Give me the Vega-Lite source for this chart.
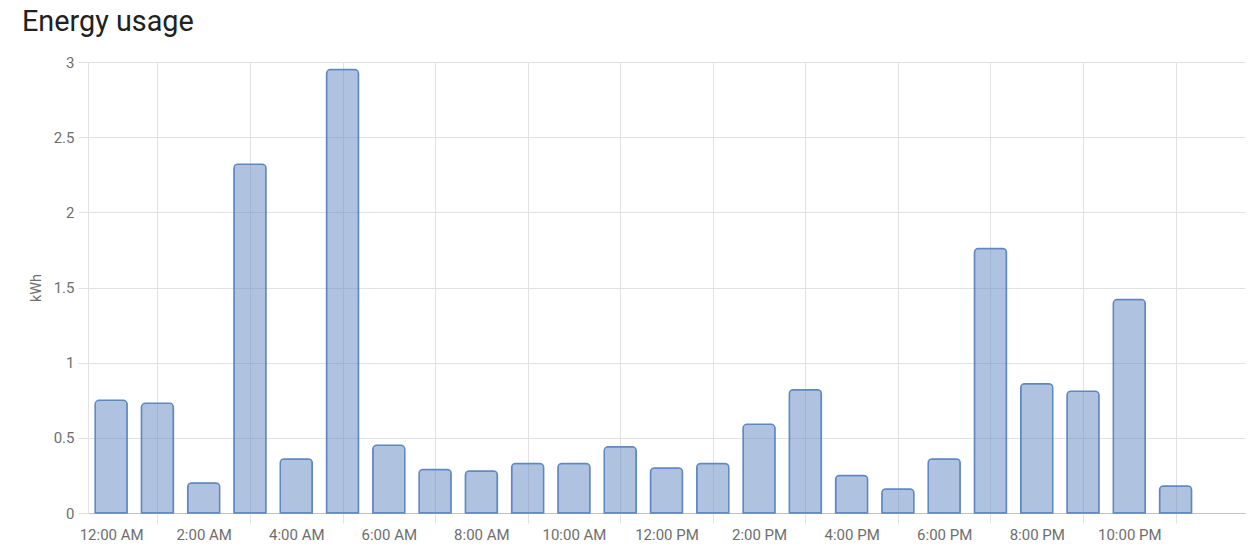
{
  "$schema": "https://vega.github.io/schema/vega-lite/v6.json",
  "autosize": "none",
  "padding": {"left": 88, "top": 62, "right": 10, "bottom": 41},
  "width": 1157,
  "height": 451,
  "background": "white",
  "title": {
    "text": "Energy usage",
    "anchor": "start",
    "frame": "group",
    "dx": -66,
    "dy": 29,
    "baseline": "alphabetic",
    "offset": 24,
    "font": "Roboto",
    "fontSize": 28.8,
    "fontWeight": "normal",
    "color": "#212121"
  },
  "config": {
    "view": {"stroke": null},
    "font": "Roboto"
  },
  "data": {
    "values": [
      {"time": "2024-01-15T00:00:00", "kwh": 0.75},
      {"time": "2024-01-15T01:00:00", "kwh": 0.73},
      {"time": "2024-01-15T02:00:00", "kwh": 0.2},
      {"time": "2024-01-15T03:00:00", "kwh": 2.32},
      {"time": "2024-01-15T04:00:00", "kwh": 0.36},
      {"time": "2024-01-15T05:00:00", "kwh": 2.95},
      {"time": "2024-01-15T06:00:00", "kwh": 0.45},
      {"time": "2024-01-15T07:00:00", "kwh": 0.29},
      {"time": "2024-01-15T08:00:00", "kwh": 0.28},
      {"time": "2024-01-15T09:00:00", "kwh": 0.33},
      {"time": "2024-01-15T10:00:00", "kwh": 0.33},
      {"time": "2024-01-15T11:00:00", "kwh": 0.44},
      {"time": "2024-01-15T12:00:00", "kwh": 0.3},
      {"time": "2024-01-15T13:00:00", "kwh": 0.33},
      {"time": "2024-01-15T14:00:00", "kwh": 0.59},
      {"time": "2024-01-15T15:00:00", "kwh": 0.82},
      {"time": "2024-01-15T16:00:00", "kwh": 0.25},
      {"time": "2024-01-15T17:00:00", "kwh": 0.16},
      {"time": "2024-01-15T18:00:00", "kwh": 0.36},
      {"time": "2024-01-15T19:00:00", "kwh": 1.76},
      {"time": "2024-01-15T20:00:00", "kwh": 0.86},
      {"time": "2024-01-15T21:00:00", "kwh": 0.81},
      {"time": "2024-01-15T22:00:00", "kwh": 1.42},
      {"time": "2024-01-15T23:00:00", "kwh": 0.18}
    ]
  },
  "mark": {
    "type": "bar",
    "width": 32,
    "fill": "#5f87c2",
    "fillOpacity": 0.5,
    "stroke": "#5f87c2",
    "strokeWidth": 1.5,
    "cornerRadiusTopLeft": 4,
    "cornerRadiusTopRight": 4
  },
  "encoding": {
    "x": {
      "field": "time",
      "type": "temporal",
      "scale": {
        "padding": 0,
        "domain": [
          {"year": 2024, "month": 1, "date": 14, "hours": 23, "minutes": 30},
          {"year": 2024, "month": 1, "date": 16, "hours": 0, "minutes": 30}
        ]
      },
      "axis": {
        "title": null,
        "values": [
          {"year": 2024, "month": 1, "date": 15, "hours": 0},
          {"year": 2024, "month": 1, "date": 15, "hours": 2},
          {"year": 2024, "month": 1, "date": 15, "hours": 4},
          {"year": 2024, "month": 1, "date": 15, "hours": 6},
          {"year": 2024, "month": 1, "date": 15, "hours": 8},
          {"year": 2024, "month": 1, "date": 15, "hours": 10},
          {"year": 2024, "month": 1, "date": 15, "hours": 12},
          {"year": 2024, "month": 1, "date": 15, "hours": 14},
          {"year": 2024, "month": 1, "date": 15, "hours": 16},
          {"year": 2024, "month": 1, "date": 15, "hours": 18},
          {"year": 2024, "month": 1, "date": 15, "hours": 20},
          {"year": 2024, "month": 1, "date": 15, "hours": 22}
        ],
        "format": "%-I:%M %p",
        "tickOffset": 46.28,
        "labelOffset": -46.28,
        "grid": true,
        "gridColor": "#e2e2e2",
        "tickColor": "#e2e2e2",
        "tickSize": 10,
        "domainColor": "#c4c4c4",
        "labelColor": "#6e6e6e",
        "labelFont": "Roboto",
        "labelFontSize": 15,
        "labelPadding": 4,
        "labelFlush": false,
        "labelOverlap": false
      }
    },
    "y": {
      "field": "kwh",
      "type": "quantitative",
      "scale": {"domain": [0, 3], "nice": false},
      "axis": {
        "title": "kWh",
        "titleFont": "Roboto",
        "titleFontSize": 14.4,
        "titleFontWeight": "normal",
        "titleColor": "#6e6e6e",
        "titlePadding": 10,
        "values": [0, 0.5, 1, 1.5, 2, 2.5, 3],
        "format": "~g",
        "grid": true,
        "gridColor": "#e2e2e2",
        "tickColor": "#e2e2e2",
        "tickSize": 10,
        "domainColor": "#e2e2e2",
        "labelColor": "#6e6e6e",
        "labelFont": "Roboto",
        "labelFontSize": 15,
        "labelPadding": 4,
        "labelFlush": false
      }
    }
  }
}
